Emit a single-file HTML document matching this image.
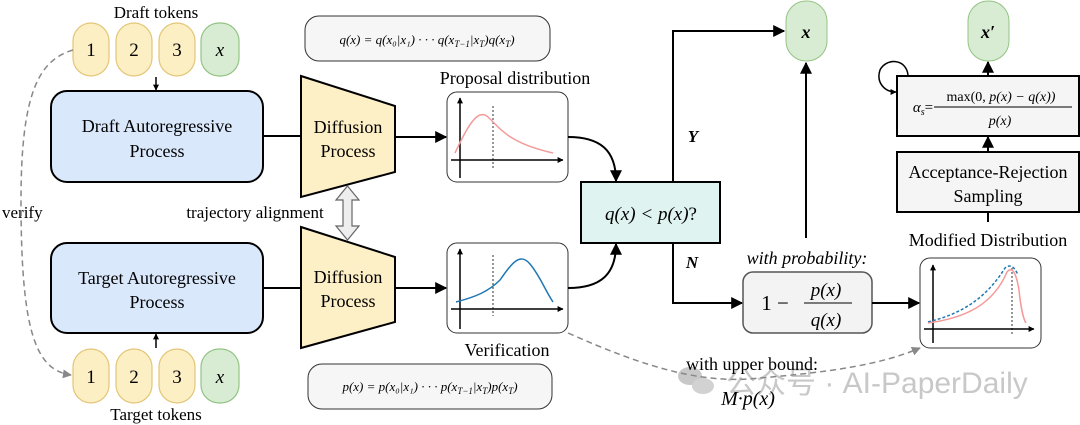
<!DOCTYPE html>
<html><head><meta charset="utf-8"><style>
body{margin:0;background:#fff;}
svg{display:block;font-family:"Liberation Serif",serif;}
.m{font-style:italic;}
</style></head><body>
<svg width="1080" height="425" viewBox="0 0 1080 425" xmlns="http://www.w3.org/2000/svg">
<defs>
<marker id="a" viewBox="0 0 10 10" refX="9" refY="5" markerWidth="6" markerHeight="6" orient="auto-start-reverse"><path d="M0,0L10,5L0,10z" fill="#000"/></marker>
<marker id="g" viewBox="0 0 10 10" refX="9" refY="5" markerWidth="6" markerHeight="6" orient="auto"><path d="M0,0L10,5L0,10z" fill="#888"/></marker>
<marker id="s" viewBox="0 0 10 10" refX="9" refY="5" markerWidth="4" markerHeight="4" orient="auto"><path d="M0,0L10,5L0,10z" fill="#000"/></marker>
</defs>
<!-- watermark -->
<g fill="#c8c8c8"><ellipse cx="690" cy="376" rx="12" ry="9"/><ellipse cx="703" cy="386" rx="11" ry="8" fill="#d2d2d2"/></g>
<text x="726" y="393" font-family="Liberation Sans,'Noto Sans CJK SC',sans-serif" font-size="30" fill="#c8c8c8">公众号 · AI-PaperDaily</text>

<!-- top tokens -->
<text x="156" y="18" font-size="17" text-anchor="middle">Draft tokens</text>
<g stroke-width="1.2">
<rect x="73" y="23" width="36" height="53" rx="18" fill="#fcefc4" stroke="#e3c676"/>
<rect x="116" y="23" width="36" height="53" rx="18" fill="#fcefc4" stroke="#e3c676"/>
<rect x="159" y="23" width="36" height="53" rx="18" fill="#fcefc4" stroke="#e3c676"/>
<rect x="201" y="23" width="38" height="53" rx="18" fill="#d8ebd3" stroke="#93c484"/>
<rect x="73" y="349" width="36" height="54" rx="18" fill="#fcefc4" stroke="#e3c676"/>
<rect x="116" y="349" width="36" height="54" rx="18" fill="#fcefc4" stroke="#e3c676"/>
<rect x="159" y="349" width="36" height="54" rx="18" fill="#fcefc4" stroke="#e3c676"/>
<rect x="201" y="349" width="38" height="54" rx="18" fill="#d8ebd3" stroke="#93c484"/>
</g>
<g font-size="19" text-anchor="middle"><text x="91" y="56">1</text><text x="134" y="56">2</text><text x="177" y="56">3</text><text x="220" y="56" class="m">x</text>
<text x="91" y="383">1</text><text x="134" y="383">2</text><text x="177" y="383">3</text><text x="220" y="383" class="m">x</text></g>
<text x="156" y="420" font-size="17" text-anchor="middle">Target tokens</text>
<line x1="156" y1="77" x2="156" y2="90" stroke="#000" stroke-width="1.5" marker-end="url(#s)"/>
<line x1="156" y1="348" x2="156" y2="334" stroke="#000" stroke-width="1.5" marker-end="url(#s)"/>

<!-- AR boxes -->
<rect x="51" y="91" width="212" height="91" rx="16" fill="#dae8fc" stroke="#000" stroke-width="2"/>
<text x="157" y="132" font-size="18" text-anchor="middle">Draft Autoregressive</text><text x="157" y="157" font-size="18" text-anchor="middle">Process</text>
<rect x="51" y="243" width="212" height="90" rx="16" fill="#dae8fc" stroke="#000" stroke-width="2"/>
<text x="157" y="284" font-size="18" text-anchor="middle">Target Autoregressive</text><text x="157" y="308" font-size="18" text-anchor="middle">Process</text>
<line x1="263" y1="136" x2="301" y2="136" stroke="#000" stroke-width="2"/>
<line x1="263" y1="288" x2="301" y2="288" stroke="#000" stroke-width="2"/>

<!-- trapezoids -->
<polygon points="301,76 395,106 395,172 301,197" fill="#fdefc6" stroke="#000" stroke-width="2"/>
<polygon points="301,227 395,257 395,322 301,348" fill="#fdefc6" stroke="#000" stroke-width="2"/>
<g font-size="18" text-anchor="middle"><text x="348" y="133">Diffusion</text><text x="348" y="157">Process</text>
<text x="348" y="283">Diffusion</text><text x="348" y="307">Process</text></g>
<polygon points="347.5,186 359,200 352,200 352,226 359,226 347.5,240 336,226 343,226 343,200 336,200" fill="#eee" stroke="#666" stroke-width="1.2"/>
<text x="255" y="218" font-size="17" text-anchor="middle">trajectory alignment</text>
<text x="2" y="218" font-size="17">verify</text>

<!-- arrows to plots -->
<line x1="395" y1="137" x2="446" y2="137" stroke="#000" stroke-width="2" marker-end="url(#a)"/>
<line x1="395" y1="288" x2="446" y2="288" stroke="#000" stroke-width="2" marker-end="url(#a)"/>

<!-- formula boxes -->
<rect x="305" y="16" width="245" height="45" rx="14" fill="#f6f6f6" stroke="#333"/>
<text x="427" y="44" font-size="13" text-anchor="middle" class="m">q(x) = q(x₀|x₁) · · · q(x<tspan font-size="9" dy="3">T−1</tspan><tspan dy="-3">|x</tspan><tspan font-size="9" dy="3">T</tspan><tspan dy="-3">)q(x</tspan><tspan font-size="9" dy="3">T</tspan><tspan dy="-3">)</tspan></text>
<rect x="308" y="364" width="244" height="45" rx="14" fill="#f6f6f6" stroke="#333"/>
<text x="430" y="391" font-size="13" text-anchor="middle" class="m">p(x) = p(x₀|x₁) · · · p(x<tspan font-size="9" dy="3">T−1</tspan><tspan dy="-3">|x</tspan><tspan font-size="9" dy="3">T</tspan><tspan dy="-3">)p(x</tspan><tspan font-size="9" dy="3">T</tspan><tspan dy="-3">)</tspan></text>

<!-- plots -->
<text x="515" y="84" font-size="18" text-anchor="middle">Proposal distribution</text>
<rect x="447" y="92" width="121" height="90" rx="10" fill="#fff" stroke="#333"/>
<line x1="460" y1="178" x2="460" y2="98" stroke="#000" stroke-width="1.5" marker-end="url(#s)"/>
<line x1="451" y1="160" x2="563" y2="160" stroke="#000" stroke-width="1.5" marker-end="url(#s)"/>
<line x1="493" y1="106" x2="493" y2="168" stroke="#000" stroke-width="0.8" stroke-dasharray="2,2"/>
<path d="M455,153 C468,125 478,108 488,117 C500,128 508,143 553,153" fill="none" stroke="#f59a9a" stroke-width="1.5"/>
<text x="507" y="356" font-size="18" text-anchor="middle">Verification</text>
<rect x="447" y="243" width="121" height="90" rx="10" fill="#fff" stroke="#333"/>
<line x1="460" y1="329" x2="460" y2="249" stroke="#000" stroke-width="1.5" marker-end="url(#s)"/>
<line x1="451" y1="309" x2="563" y2="309" stroke="#000" stroke-width="1.5" marker-end="url(#s)"/>
<line x1="493" y1="255" x2="493" y2="316" stroke="#000" stroke-width="0.8" stroke-dasharray="2,2"/>
<path d="M456,302 C475,297 488,292 500,280 C512,263 520,252 530,264 C540,276 545,290 553,302" fill="none" stroke="#1f77b4" stroke-width="1.5"/>

<!-- curves to decision -->
<path d="M568,137 C600,137 616,150 616,181" fill="none" stroke="#000" stroke-width="2" marker-end="url(#a)"/>
<path d="M568,288 C600,288 616,275 616,244" fill="none" stroke="#000" stroke-width="2" marker-end="url(#a)"/>
<rect x="581" y="182" width="139" height="61" fill="#dff3f0" stroke="#000" stroke-width="2"/>
<text x="651" y="220" font-size="19" text-anchor="middle" class="m">q(x) &lt; p(x)<tspan font-style="normal">?</tspan></text>

<!-- Y / N -->
<polyline points="673,182 673,31 784,31" fill="none" stroke="#000" stroke-width="2" marker-end="url(#a)"/>
<text x="693" y="142" font-size="17" font-weight="bold" class="m" text-anchor="middle">Y</text>
<polyline points="673,243 673,303 742,303" fill="none" stroke="#000" stroke-width="2" marker-end="url(#a)"/>
<text x="692" y="268" font-size="17" font-weight="bold" class="m" text-anchor="middle">N</text>
<rect x="786" y="1" width="41" height="60" rx="20" fill="#d8ebd3" stroke="#93c484"/>
<text x="806" y="38" font-size="18" class="m" font-weight="bold" text-anchor="middle">x</text>
<line x1="806" y1="238" x2="806" y2="63" stroke="#000" stroke-width="2" marker-end="url(#a)"/>

<text x="807" y="264" font-size="18" class="m" text-anchor="middle">with probability:</text>
<rect x="743" y="272" width="129" height="61" rx="10" fill="#f3f3f3" stroke="#555" stroke-width="1.5"/>
<text x="775" y="310" font-size="21" text-anchor="middle">1 −</text>
<text x="826" y="296" font-size="19" class="m" text-anchor="middle">p(x)</text>
<line x1="804" y1="303" x2="852" y2="303" stroke="#000" stroke-width="1"/>
<text x="826" y="326" font-size="19" class="m" text-anchor="middle">q(x)</text>
<line x1="872" y1="303" x2="919" y2="303" stroke="#000" stroke-width="2" marker-end="url(#a)"/>

<!-- modified plot -->
<text x="988" y="246" font-size="18" text-anchor="middle">Modified Distribution</text>
<rect x="920" y="258" width="121" height="90" rx="10" fill="#fff" stroke="#333"/>
<line x1="933" y1="343" x2="933" y2="265" stroke="#000" stroke-width="1.5" marker-end="url(#s)"/>
<line x1="924" y1="329" x2="1034" y2="329" stroke="#000" stroke-width="1.5" marker-end="url(#s)"/>
<line x1="1012" y1="268" x2="1012" y2="334" stroke="#000" stroke-width="0.8" stroke-dasharray="2,2"/>
<path d="M928,322 C960,314 985,300 1005,268 C1010,264 1014,266 1018,275" fill="none" stroke="#1f77b4" stroke-width="1.5" stroke-dasharray="3,2"/>
<path d="M928,323 C965,318 993,305 1007,272 C1012,266 1016,272 1019,290 C1021,310 1024,320 1026,323" fill="none" stroke="#f59a9a" stroke-width="1.5"/>

<!-- right column -->
<line x1="988" y1="222" x2="988" y2="212" stroke="#000" stroke-width="2"/>
<rect x="897" y="152" width="182" height="60" fill="#f5f5f5" stroke="#000" stroke-width="2"/>
<text x="988" y="178" font-size="18" text-anchor="middle">Acceptance-Rejection</text>
<text x="988" y="202" font-size="18" text-anchor="middle">Sampling</text>
<line x1="988" y1="152" x2="988" y2="137" stroke="#000" stroke-width="2" marker-end="url(#a)"/>
<rect x="897" y="76" width="182" height="60" fill="#f5f5f5" stroke="#000" stroke-width="2"/>
<text x="923" y="112" font-size="15" class="m" text-anchor="middle">α<tspan font-size="10" dy="3">s</tspan><tspan dy="-3" font-style="normal">=</tspan></text>
<text x="1001" y="101" font-size="14" class="m" text-anchor="middle"><tspan font-style="normal">max(0,</tspan> p(x) − q(x))</text>
<line x1="934" y1="107" x2="1072" y2="107" stroke="#000" stroke-width="1"/>
<text x="1000" y="125" font-size="14" class="m" text-anchor="middle">p(x)</text>
<line x1="988" y1="76" x2="988" y2="62" stroke="#000" stroke-width="2" marker-end="url(#a)"/>
<rect x="968" y="1" width="41" height="60" rx="20" fill="#d8ebd3" stroke="#93c484"/>
<text x="988" y="38" font-size="18" class="m" font-weight="bold" text-anchor="middle">x′</text>
<path d="M908,75 C906,58 886,58 880,70 C876,82 884,92 896,92" fill="none" stroke="#000" stroke-width="1.5" marker-end="url(#s)"/>

<!-- dashed -->
<path d="M73,50 C40,60 21,90 21,200 C21,330 35,370 71,375" fill="none" stroke="#888" stroke-width="1.5" stroke-dasharray="6,4" marker-end="url(#g)"/>
<path d="M568,333 C640,365 700,385 760,378 C830,372 880,365 920,348" fill="none" stroke="#888" stroke-width="1.5" stroke-dasharray="6,4" marker-end="url(#g)"/>
<text x="752" y="370" font-size="18" text-anchor="middle">with upper bound:</text>
<text x="748" y="405" font-size="20" class="m" text-anchor="middle">M·p(x)</text>
</svg>
</body></html>
